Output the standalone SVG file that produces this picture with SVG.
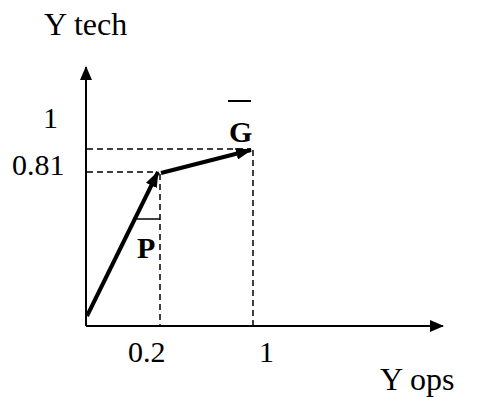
<svg xmlns="http://www.w3.org/2000/svg" width="486" height="398" viewBox="0 0 486 398">
<style>
text{font-family:"Liberation Serif","Times New Roman",serif;font-size:30px;fill:#000}
.y{font-size:32px}
.b{font-weight:bold}
.ax{stroke:#000;stroke-width:2;fill:none}
.d{stroke:#000;stroke-width:1.5;stroke-dasharray:6,4;fill:none}
.v{stroke:#000;stroke-width:4;fill:none}
</style>
<defs>
<marker id="ah" markerWidth="14" markerHeight="12" refX="13" refY="6" orient="auto" markerUnits="userSpaceOnUse"><path d="M0,0 L14,6 L0,12 Z" fill="#000"/></marker>
<marker id="vh" markerWidth="16" markerHeight="12" refX="15" refY="6" orient="auto" markerUnits="userSpaceOnUse"><path d="M0,0 L16,6 L0,12 Z" fill="#000"/></marker>
</defs>
<g id="connectors">
<path class="d" d="M87,149 H251"/>
<path class="d" d="M87,172 H157"/>
<path class="d" d="M160,174 V325"/>
<path class="d" d="M253,150 V325"/>
<path class="ax" d="M86,326 V67" marker-end="url(#ah)"/>
<path class="ax" d="M86,326 H443" marker-end="url(#ah)"/>
<path class="v" d="M87,316 L158,172" marker-end="url(#vh)"/>
<path class="v" d="M161,173 L251,150" marker-end="url(#vh)"/>
<path stroke="#000" stroke-width="1.5" d="M137,219 H160"/>
</g>
<g id="labels">
<text class="y" x="44" y="35">Y tech</text>
<text x="43" y="128">1</text>
<text x="12" y="175">0.81</text>
<text x="128" y="362">0.2</text>
<text x="259" y="362">1</text>
<text class="y" x="380" y="390">Y ops</text>
<text class="b" x="137" y="258">P</text>
<text class="b" x="229" y="142">G</text>
<path stroke="#000" stroke-width="2" d="M228,101 H251"/>
</g>
</svg>
